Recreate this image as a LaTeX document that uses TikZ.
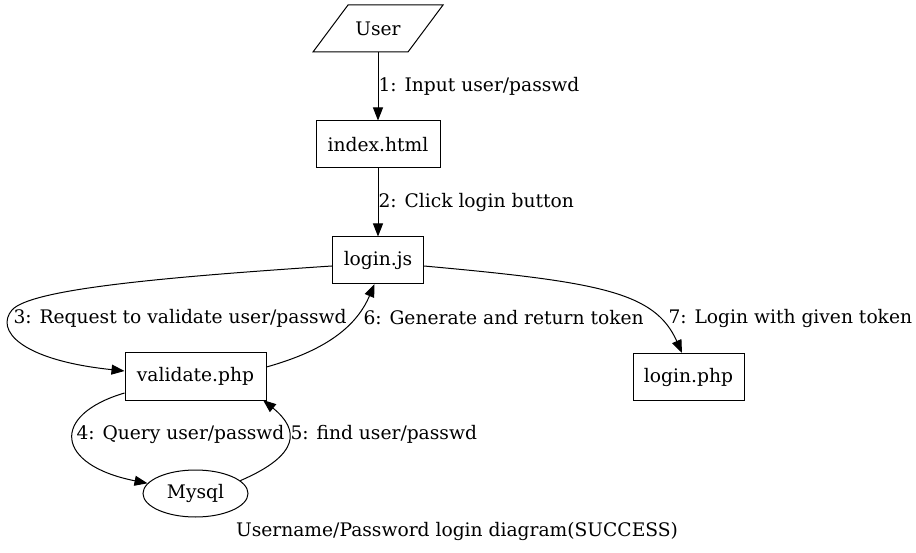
\documentclass[tikz,border=0pt]{standalone}
\usepackage{fontspec}
\setmainfont{DejaVu Serif}
\usetikzlibrary{arrows.meta,shapes.geometric}
\begin{document}
\begin{tikzpicture}[x=1pt,y=-1pt,
  font=\fontsize{18.67pt}{21pt}\selectfont,
  every path/.style={line width=1pt},
  box/.style={draw,rectangle,inner sep=0pt},
  lab/.style={inner sep=0pt,anchor=west},
  conn/.style={-{Triangle[length=13pt,width=10pt]}}]
\useasboundingbox (0,0) rectangle (916,553);
\fill[white] (0,0) rectangle (916,553);
\node[inner sep=0pt,minimum width=70pt,minimum height=47pt] (user) at (378,28.5) {User};
\draw (313,52) -- (348,5) -- (443,5) -- (408,52) -- cycle;
\node[box,minimum width=124pt,minimum height=47pt] (index) at (378,144.5) {index.html};
\node[box,minimum width=91pt,minimum height=47pt] (loginjs) at (378,260.5) {login.js};
\node[box,minimum width=141pt,minimum height=47pt] (validate) at (195.5,376.5) {validate.php};
\node[box,minimum width=111pt,minimum height=47pt] (loginphp) at (688.5,377) {login.php};
\node[draw,ellipse,minimum width=105pt,minimum height=47pt,inner sep=0pt] (mysql) at (195.5,493.5) {Mysql};

\draw[conn] (user.south) -- (index.north);
\draw[conn] (index.south) -- (loginjs.north);
\draw[conn] (loginjs.west |- 0,266) .. controls (150,278) and (30,290) .. (12,310)
  .. controls (-5,330) and (20,360) .. (validate.west |- 0,371);
\draw[conn] (validate.east |- 0,367) .. controls (320,352) and (355,330) .. (374.5,284);
\draw[conn] (validate.west |- 0,393) .. controls (50,415) and (55,465) .. (mysql.168);
\draw[conn] (mysql.16) .. controls (300,455) and (300,430) .. (263,400);
\draw[conn] (loginjs.east |- 0,266) .. controls (600,282) and (655,292) .. (682,353);

\node[lab] (l1) at (378,86) {1: Input user/passwd};
\node[lab] (l2) at (378,202) {2: Click login button};
\node[lab] (l3) at (13,318) {3: Request to validate user/passwd};
\node[lab] (l6) at (363,318) {6: Generate and return token};
\node[lab] (l7) at (668,318) {7: Login with given token};
\node[lab] (l4) at (76,434) {4: Query user/passwd};
\node[lab] (l5) at (290,434) {5: find user/passwd};
\node (cap) at (457,531.5) {Username/Password login diagram(SUCCESS)};
\end{tikzpicture}
\end{document}
